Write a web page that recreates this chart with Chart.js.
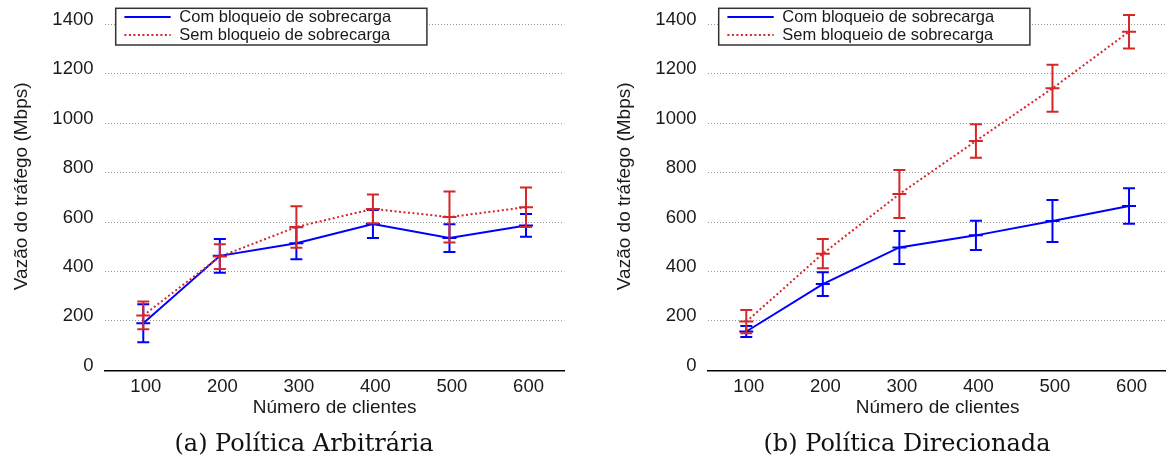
<!DOCTYPE html>
<html>
<head>
<meta charset="utf-8">
<script src="https://cdn.jsdelivr.net/npm/chart.js@4/dist/chart.umd.min.js"></script>
<style>
  html, body { margin: 0; padding: 0; background: #fff; }
  #wrap { position: relative; width: 1166px; height: 466px; overflow: hidden; }
  canvas { position: absolute; top: 0; }
  #chartA { left: 0; }
  #chartB { left: 603px; }
  .caption {
    position: absolute; top: 431px; width: 400px; text-align: center;
    font-family: "DejaVu Serif", serif; font-size: 24px; line-height: 24px; color: #111;
    white-space: nowrap;
  }
  #capA { left: 104px; }
  #capB { left: 707px; }
</style>
</head>
<body>
<div id="wrap">
  <canvas id="chartA" width="580" height="430"></canvas>
  <canvas id="chartB" width="580" height="430"></canvas>
  <div class="caption" id="capA">(a) Política Arbitrária</div>
  <div class="caption" id="capB">(b) Política Direcionada</div>
</div>
<script>
const clients = ["100", "200", "300", "400", "500", "600"];
const yTicks = [0, 200, 400, 600, 800, 1000, 1200, 1400];

// (a) Política Arbitrária
const comBloqueioA = [190, 463, 514, 592, 535, 586];
const comBloqueioAErr = [77, 68, 65, 57, 56, 46];
const semBloqueioA = [222, 460, 580, 653, 620, 660];
const semBloqueioAErr = [56, 50, 84, 58, 103, 80];

// (b) Política Direcionada
const comBloqueioB = [157, 349, 497, 546, 604, 665];
const comBloqueioBErr = [22, 48, 67, 59, 85, 72];
const semBloqueioB = [197, 472, 713, 928, 1141, 1370];
const semBloqueioBErr = [47, 59, 97, 68, 95, 68];

const BLUE = "#0000ff";
const RED = "#d62728";
const TEXT = "#1a1a1a";
const SANS = "'Liberation Sans', Arial, sans-serif";

// gnuplot style error bars: vertical bar, caps at both ends and a tick at the mean
const errorBarPlugin = {
  id: "errorBars",
  afterDatasetDraw(chart, args) {
    const ds = chart.data.datasets[args.index];
    if (!ds.errors) return;
    const y = chart.scales.y;
    const ctx = chart.ctx;
    const cap = 6;
    ctx.save();
    ctx.strokeStyle = ds.borderColor;
    ctx.lineWidth = 2;
    ctx.setLineDash([]);
    args.meta.data.forEach((pt, i) => {
      const v = ds.data[i];
      const e = ds.errors[i];
      const top = y.getPixelForValue(v + e);
      const bot = y.getPixelForValue(v - e);
      const mid = y.getPixelForValue(v);
      ctx.beginPath();
      ctx.moveTo(pt.x, top); ctx.lineTo(pt.x, bot);
      ctx.moveTo(pt.x - cap, top); ctx.lineTo(pt.x + cap, top);
      ctx.moveTo(pt.x - cap, bot); ctx.lineTo(pt.x + cap, bot);
      ctx.moveTo(pt.x - cap - 1, mid); ctx.lineTo(pt.x + cap + 1, mid);
      ctx.stroke();
    });
    ctx.restore();
  },
};

// y title sits a bit above the middle of the axis in the original
const yTitlePlugin = {
  id: "yTitle",
  afterDraw(chart) {
    const t = chart.options.scales.y.title;
    const area = chart.chartArea;
    const ctx = chart.ctx;
    ctx.save();
    ctx.translate(21.7, (area.top + area.bottom) / 2 - 11);
    ctx.rotate(-Math.PI / 2);
    ctx.font = "19px " + SANS;
    ctx.fillStyle = TEXT;
    ctx.textAlign = "center";
    ctx.textBaseline = "middle";
    ctx.fillText(t.text, 0, 0);
    ctx.restore();
  },
};

// boxed legend drawn over the plot, like the original figure
const boxLegendPlugin = {
  id: "boxLegend",
  afterDraw(chart) {
    const ctx = chart.ctx;
    const area = chart.chartArea;
    const x0 = area.left + 10.7;
    const y0 = 8.3;
    const w = 311.2;
    const h = 36.7;
    ctx.save();
    ctx.fillStyle = "#fff";
    ctx.fillRect(x0, y0, w, h);
    ctx.strokeStyle = "#333";
    ctx.lineWidth = 1.5;
    ctx.strokeRect(x0, y0, w, h);
    ctx.font = "16.5px " + SANS;
    ctx.textBaseline = "middle";
    ctx.fillStyle = TEXT;
    const sets = chart.data.datasets.slice().sort((a, b) => b.order - a.order);
    sets.forEach((ds, i) => {
      const ry = y0 + 8.6 + i * 18;
      ctx.strokeStyle = ds.borderColor;
      ctx.lineWidth = 2;
      ctx.setLineDash(ds.borderDash || []);
      ctx.beginPath();
      ctx.moveTo(x0 + 8.7, ry);
      ctx.lineTo(x0 + 55, ry);
      ctx.stroke();
      ctx.fillText(ds.label, x0 + 63.6, ry + 0.5);
    });
    ctx.restore();
  },
};

function makeChart(id, com, comErr, sem, semErr) {
  return new Chart(document.getElementById(id), {
    type: "line",
    data: {
      labels: clients,
      datasets: [
        {
          label: "Com bloqueio de sobrecarga",
          data: com,
          errors: comErr,
          borderColor: BLUE,
          borderWidth: 2,
          pointRadius: 0,
          tension: 0,
          order: 1,
        },
        {
          label: "Sem bloqueio de sobrecarga",
          data: sem,
          errors: semErr,
          borderColor: RED,
          borderWidth: 2,
          borderDash: [2, 2.5],
          pointRadius: 0,
          tension: 0,
          order: 0,
        },
      ],
    },
    options: {
      responsive: false,
      animation: false,
      devicePixelRatio: 1,
      layout: { padding: { left: 0, top: 24.3, right: 15.7, bottom: 0 } },
      plugins: { legend: { display: false }, tooltip: { enabled: false } },
      scales: {
        x: {
          type: "category",
          offset: true,
          grid: { display: false, drawTicks: false },
          border: { display: true, color: "#000", width: 1.5 },
          ticks: { color: TEXT, font: { family: SANS, size: 18.5 }, padding: 5.6, labelOffset: 2.5, maxRotation: 0 },
          title: {
            display: true,
            text: "Número de clientes",
            color: TEXT,
            font: { family: SANS, size: 19 },
            padding: { top: 0, bottom: 10.6 },
          },
          afterFit(scale) { scale.height = 59.7; },
        },
        y: {
          min: 0,
          max: 1400,
          afterBuildTicks(scale) { scale.ticks = yTicks.map((v) => ({ value: v })); },
          grid: {
            drawTicks: false,
            lineWidth: 1,
            color: (c) => (c.tick && c.tick.value === 0 ? "rgba(0,0,0,0)" : "#999"),
            borderDash: [1, 2],
          },
          border: { display: false, dash: [1, 2] },
          ticks: {
            color: TEXT,
            font: { family: SANS, size: 18.5 },
            padding: 11.5,
            labelOffset: -4.5,
            callback: (v) => String(v),
          },
          // drawn by yTitlePlugin
          title: { display: false, text: "Vazão do tráfego (Mbps)" },
          afterFit(scale) { scale.width = 105; },
        },
      },
    },
    plugins: [errorBarPlugin, yTitlePlugin, boxLegendPlugin],
  });
}

makeChart("chartA", comBloqueioA, comBloqueioAErr, semBloqueioA, semBloqueioAErr);
makeChart("chartB", comBloqueioB, comBloqueioBErr, semBloqueioB, semBloqueioBErr);
</script>
</body>
</html>
